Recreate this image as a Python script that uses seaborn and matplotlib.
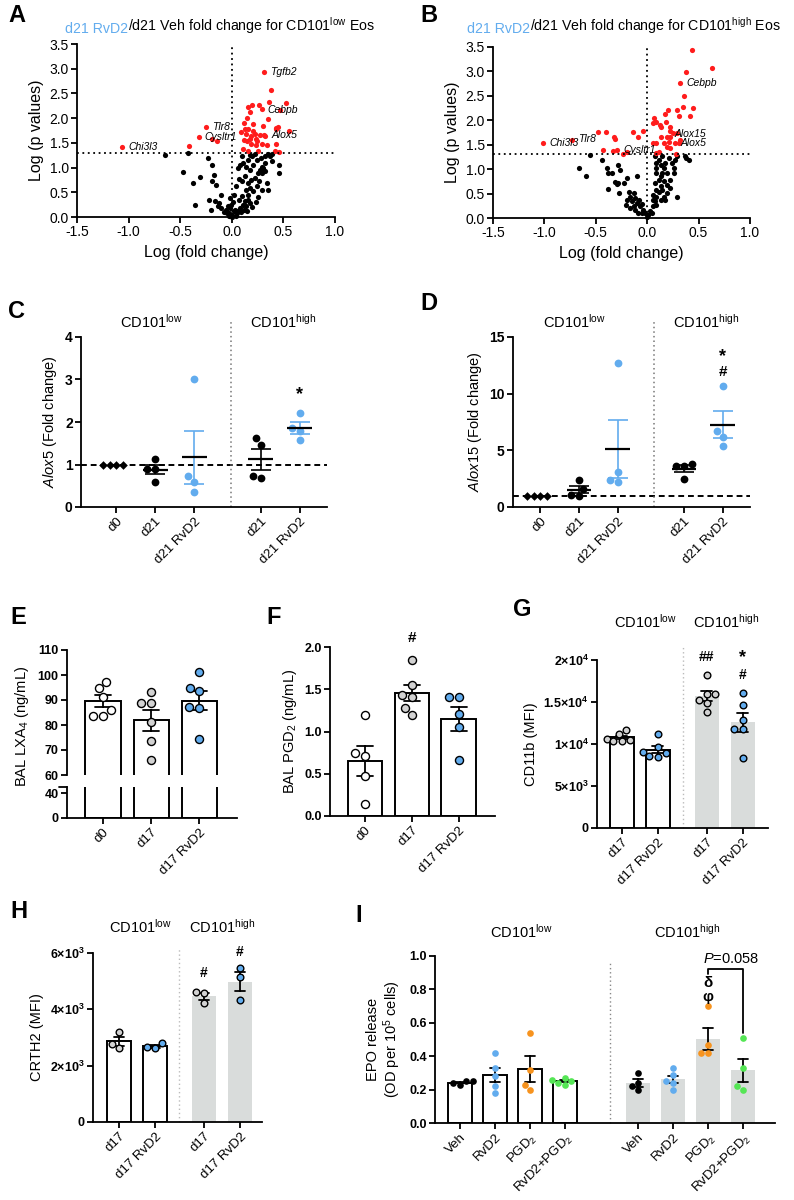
import warnings
import numpy as np
import matplotlib
matplotlib.use('Agg')
import matplotlib.pyplot as plt
from matplotlib.ticker import FormatStrFormatter
import seaborn as sns

warnings.filterwarnings('ignore')

# ---------------- data ----------------
# volcano A: (log fold change, -log p)
a_black = [(-0.65, 1.25), (-0.42, 1.29), (-0.47, 0.91), (-0.38, 0.69), (-0.31, 0.81), (-0.36, 0.25),
           (-0.23, 1.19), (-0.19, 1.05), (-0.17, 0.84), (-0.19, 0.72), (-0.15, 0.65), (-0.22, 0.35),
           (-0.16, 0.33), (-0.12, 0.28), (-0.20, 0.15), (-0.13, 0.22), (-0.10, 0.18), (-0.10, 0.45),
           (-0.06, 0.15), (-0.03, 0.08), (0.00, 0.05), (0.02, 0.12), (-0.02, 0.18), (-0.05, 0.08),
           (0.03, 0.15), (0.05, 0.08), (0.00, 0.01), (-0.03, 0.03), (-0.08, 0.10), (0.04, 0.03),
           (0.06, 0.12), (0.08, 0.18), (-0.01, 0.25), (0.01, 0.30), (-0.04, 0.22), (0.07, 0.35),
           (0.10, 0.42), (0.13, 0.32), (0.11, 0.25), (0.14, 0.22), (0.16, 0.35), (0.18, 0.28),
           (0.20, 0.20), (0.12, 0.15), (0.09, 0.10), (0.15, 0.12), (0.04, 0.62), (0.065, 0.76),
           (0.10, 0.72), (0.13, 0.82), (0.155, 0.69), (0.19, 0.75), (0.22, 0.79), (0.25, 0.89),
           (0.275, 0.95), (0.29, 1.02), (0.30, 0.99), (0.32, 0.93), (0.29, 0.89), (0.26, 0.72),
           (0.34, 0.69), (0.35, 0.55), (0.29, 0.55), (0.24, 0.62), (0.21, 0.52), (0.18, 0.58),
           (0.155, 0.45), (0.135, 0.55), (0.06, 0.99), (0.08, 1.06), (0.11, 1.09), (0.16, 1.16),
           (0.20, 1.23), (0.24, 1.16), (0.28, 1.19), (0.32, 1.09), (0.37, 1.23), (0.39, 1.13),
           (0.46, 1.05), (0.46, 0.90), (0.39, 1.28), (0.35, 1.27), (0.32, 1.23), (0.22, 1.28),
           (0.18, 1.26), (0.10, 1.23), (0.14, 1.02), (0.18, 0.95), (0.21, 1.05), (0.25, 0.40),
           (0.23, 0.30), (0.02, 0.45), (-0.02, 0.38)]
a_red = [(0.31, 2.93), (0.375, 2.56), (0.36, 2.33), (0.53, 2.31), (0.47, 2.17), (0.16, 2.23),
         (0.20, 2.26), (0.26, 2.27), (0.295, 2.18), (0.18, 2.12), (0.15, 2.00), (0.35, 1.98),
         (0.12, 1.91), (0.21, 1.88), (0.30, 1.85), (-0.25, 1.82), (0.13, 1.79), (0.16, 1.78),
         (0.43, 1.81), (0.45, 1.83), (0.43, 1.78), (0.55, 1.75), (0.09, 1.72), (0.135, 1.67),
         (0.19, 1.63), (0.22, 1.67), (0.27, 1.65), (0.31, 1.66), (0.32, 1.64), (0.21, 1.73),
         (-0.32, 1.62), (-0.19, 1.58), (-0.145, 1.54), (0.115, 1.56), (0.145, 1.54), (0.18, 1.58),
         (0.23, 1.58), (0.24, 1.53), (0.43, 1.48), (-0.41, 1.43), (-1.06, 1.42), (0.19, 1.48),
         (0.23, 1.45), (0.29, 1.48), (0.105, 1.37), (0.16, 1.34), (0.25, 1.33), (0.34, 1.45),
         (0.42, 1.34), (0.46, 1.31)]
a_genes = [('Tgfb2', 0.37, 2.93), ('Cebpb', 0.35, 2.17), ('Tlr8', -0.19, 1.82),
           ('Cysltr1', -0.27, 1.62), ('Alox5', 0.38, 1.65), ('Chi3l3', -1.00, 1.42)]

# volcano B
b_black = [(-0.56, 1.28), (-0.66, 1.03), (-0.60, 0.85), (-0.39, 1.02), (-0.38, 0.93), (-0.34, 0.93),
           (-0.28, 1.09), (-0.26, 0.99), (-0.44, 1.19), (-0.20, 0.82), (-0.10, 0.85), (-0.31, 0.73),
           (-0.29, 0.69), (-0.28, 0.71), (-0.23, 0.71), (-0.38, 0.60), (-0.27, 0.51), (-0.18, 0.54),
           (-0.17, 0.44), (-0.13, 0.51), (-0.12, 0.41), (-0.20, 0.37), (-0.15, 0.34), (-0.10, 0.31),
           (-0.21, 0.27), (-0.07, 0.24), (-0.17, 0.20), (-0.12, 0.17), (-0.08, 0.37), (-0.05, 0.29),
           (-0.13, 0.24), (-0.04, 0.17), (-0.02, 0.10), (0.01, 0.07), (0.00, 0.03), (-0.05, 0.10),
           (-0.09, 0.10), (0.03, 0.14), (0.05, 0.10), (0.06, 0.24), (0.08, 0.34), (0.09, 0.44),
           (0.11, 0.54), (0.13, 0.65), (0.06, 0.37), (0.09, 0.27), (0.13, 0.37), (0.16, 0.44),
           (0.19, 0.51), (0.14, 0.58), (0.08, 0.71), (0.11, 0.78), (0.09, 0.92), (0.14, 0.92),
           (0.16, 1.02), (0.17, 1.12), (0.13, 1.09), (0.09, 1.12), (0.08, 1.26), (0.14, 1.26),
           (0.21, 1.22), (0.24, 1.12), (0.26, 1.02), (0.27, 1.19), (0.29, 1.26), (0.26, 0.92),
           (0.22, 0.78), (0.19, 0.68), (0.19, 0.92), (0.29, 0.43), (0.37, 1.26), (0.41, 1.19),
           (0.11, 1.19), (0.09, 1.02), (0.13, 0.85), (0.16, 0.75), (0.17, 0.37), (0.09, 0.58),
           (0.06, 0.48), (0.22, 0.61), (0.38, 1.22)]
b_red = [(0.44, 3.43), (0.63, 3.06), (0.375, 2.98), (0.32, 2.77), (0.36, 2.49), (0.35, 2.28),
         (0.29, 2.22), (0.20, 2.22), (0.45, 2.26), (0.42, 2.09), (0.31, 2.09), (0.17, 2.12),
         (0.07, 2.04), (0.09, 1.97), (0.06, 1.94), (0.12, 1.90), (0.13, 1.86), (0.18, 1.97),
         (0.22, 1.87), (0.22, 1.78), (0.25, 1.75), (0.29, 1.73), (0.19, 1.66), (0.22, 1.66),
         (0.32, 1.60), (0.13, 1.65), (0.09, 1.53), (0.16, 1.53), (0.19, 1.46), (0.27, 1.53),
         (0.31, 1.54), (0.21, 1.56), (0.22, 1.44), (0.11, 1.36), (0.09, 1.34), (0.28, 1.31),
         (0.06, 1.53), (-0.04, 1.78), (-0.14, 1.77), (-0.09, 1.66), (-0.48, 1.76), (-0.40, 1.77),
         (-0.32, 1.66), (-0.31, 1.61), (-0.43, 1.39), (-0.33, 1.38), (-0.29, 1.40), (-0.24, 1.31),
         (-0.20, 1.36), (-0.73, 1.60), (-1.01, 1.53)]
b_genes = [('Cebpb', 0.38, 2.77), ('Alox15', 0.27, 1.71), ('Alox5', 0.32, 1.53),
           ('Tlr8', -0.67, 1.61), ('Chi3l3', -0.95, 1.53), ('Cysltr1', -0.23, 1.39)]

# C / D: qPCR fold change
cd_labels = ['d0', 'd21', 'd21 RvD2', 'd21', 'd21 RvD2']
alox5 = [[1.0, 1.0, 1.0, 1.0], [1.12, 0.90, 0.90, 0.60], [3.00, 0.72, 0.60, 0.35],
         [1.62, 1.47, 0.73, 0.68], [2.22, 1.85, 1.78, 1.58]]
alox15 = [[1.0, 1.0, 1.0, 1.0], [2.4, 1.6, 1.1, 1.0], [12.7, 3.1, 2.4, 2.2],
          [3.8, 3.6, 3.6, 2.5], [10.7, 6.7, 6.2, 5.4]]

# E / F: BAL lipid mediators
ef_labels = ['d0', 'd17', 'd17 RvD2']
lxa4 = [[97.3, 94.7, 91.3, 86.0, 83.6, 83.6], [93.3, 88.7, 88.7, 81.1, 73.7, 66.0],
        [101.3, 95.0, 93.7, 87.3, 87.0, 74.4]]
pgd2 = [[1.19, 0.74, 0.71, 0.47, 0.14], [1.85, 1.55, 1.43, 1.41, 1.28, 1.20],
        [1.41, 1.41, 1.21, 1.05, 0.66]]

# G / H: flow cytometry MFI
gh_labels = ['d17', 'd17 RvD2', 'd17', 'd17 RvD2']
cd11b = [[11700, 11200, 10600, 10500, 10400, 10300], [11200, 9600, 9100, 8900, 8600, 8500],
         [18200, 16000, 16000, 15200, 14900, 13800], [16100, 14600, 12900, 11800, 11800, 8300]]
crth2 = [[3190, 2770, 2620], [2800, 2660, 2620], [4610, 4580, 4220], [5460, 5140, 4330]]

# I: EPO release
i_labels = ['Veh', 'RvD2', 'PGD$_2$', 'RvD2+PGD$_2$'] * 2
epo = [[0.25, 0.25, 0.24, 0.23], [0.42, 0.33, 0.28, 0.22, 0.18], [0.54, 0.32, 0.23, 0.20],
       [0.27, 0.26, 0.25, 0.24, 0.23], [0.30, 0.24, 0.22, 0.20], [0.33, 0.29, 0.25, 0.24, 0.20],
       [0.70, 0.47, 0.42, 0.42], [0.51, 0.33, 0.22, 0.20]]

# ---------------- style ----------------
W, H = 794, 1200
BLUE = '#62acee'
ORANGE = '#f7931e'
GREEN = '#55e655'
RED = '#ff1c1c'
GREY_DOT = '#d2d2d2'
GREY_BAR = '#d9dcdb'
DOT = (0, (1, 2))
TICK = 9          # bold y tick labels in C-I
XTICK = 9.5       # rotated category labels
YLAB = 10.5

sns.set_theme(style='ticks')
plt.rcParams.update({
    'axes.edgecolor': 'black', 'axes.linewidth': 1.3,
    'xtick.color': 'black', 'ytick.color': 'black',
    'xtick.major.width': 1.3, 'ytick.major.width': 1.3,
    'xtick.major.size': 4, 'ytick.major.size': 4,
    'xtick.major.pad': 2, 'ytick.major.pad': 2,
    'axes.labelcolor': 'black', 'text.color': 'black',
    'mathtext.fontset': 'custom', 'mathtext.rm': 'Liberation Sans',
    'mathtext.it': 'Liberation Sans:italic', 'mathtext.bf': 'Liberation Sans:bold',
})
plt.rcParams['font.family'] = ['Liberation Sans', 'DejaVu Sans']

fig = plt.figure(figsize=(W / 100, H / 100), dpi=100)


def add_ax(left, top, right, bottom):
    return fig.add_axes([left / W, 1 - bottom / H, (right - left) / W, (bottom - top) / H])


def px_text(x, y, s, **kw):
    return fig.text(x / W, 1 - y / H, s, **kw)


def letter(x, y, s):
    px_text(x, y, s, fontsize=17, fontweight='bold', va='top', ha='left')


def header(x, y, level):
    px_text(x, y, 'CD101$^{\\mathrm{%s}}$' % level, fontsize=10.5, ha='center', va='baseline')


def bold_yticks(ax, ticks, labels, size=TICK):
    ax.set_yticks(ticks, labels)
    for t in ax.get_yticklabels():
        t.set_fontweight('bold')
        t.set_fontsize(size)


def rot_xticks(ax, pos, labels, size=XTICK):
    ax.set_xticks(pos, labels, rotation=45, ha='right', rotation_mode='anchor', fontsize=size)


def volcano(ax, black, red, genes, level, title_x):
    black = np.array(black)
    red = np.array(red)
    sns.scatterplot(x=black[:, 0], y=black[:, 1], color='black', s=14, linewidth=0, ax=ax, clip_on=False)
    sns.scatterplot(x=red[:, 0], y=red[:, 1], color=RED, s=14, linewidth=0, ax=ax, clip_on=False)
    ax.plot([-1.5, 1.0], [1.3, 1.3], ls=DOT, color='black', lw=1.3)
    ax.plot([0, 0], [0, 3.5], ls=DOT, color='black', lw=1.3)
    for g, x, y in genes:
        ax.text(x, y, g, style='italic', fontsize=7.5, va='center', ha='left')
    ax.set_xlim(-1.5, 1.0)
    ax.set_ylim(0, 3.5)
    ax.set_xticks(np.arange(-1.5, 1.01, 0.5))
    ax.set_yticks(np.arange(0, 3.51, 0.5))
    ax.xaxis.set_major_formatter(FormatStrFormatter('%.1f'))
    ax.yaxis.set_major_formatter(FormatStrFormatter('%.1f'))
    ax.tick_params(labelsize=10)
    ax.set_xlabel('Log (fold change)', fontsize=11.5)
    ax.set_ylabel('Log (p values)', fontsize=11.5)
    sns.despine(ax=ax)
    t1 = px_text(title_x, 33, 'd21 RvD2', color=BLUE, fontsize=10.2, va='baseline')
    ax.annotate('/d21 Veh fold change for CD101$^{\\mathrm{%s}}$ Eos' % level, xy=(1, 0), xycoords=t1,
                va='bottom', ha='left', fontsize=10.2, annotation_clip=False)


def dot_group(ax, pos, vals, color, marker, err_color, size):
    xs = np.full(len(vals), pos, dtype=float)
    sns.swarmplot(x=xs, y=vals, native_scale=True, orient='x', color=color, marker=marker,
                  size=size, linewidth=0, ax=ax, clip_on=False)
    m = np.mean(vals)
    se = np.std(vals, ddof=1) / np.sqrt(len(vals))
    if se > 0:
        ax.errorbar(pos, m, yerr=se, color=err_color, capsize=7, capthick=1.2, elinewidth=1.2, zorder=3)
        ax.hlines(m, pos - 0.32, pos + 0.32, color='black', lw=1.6, zorder=4)


def cd_panel(ax, pos, data, ymax, yticks, ylabel, sep):
    colors = ['black', 'black', BLUE, 'black', BLUE]
    for i, vals in enumerate(data):
        dot_group(ax, pos[i], vals, colors[i], 'D' if i == 0 else 'o', colors[i], 4.4 if i == 0 else 5.6)
    ax.axhline(1, ls=(0, (3, 2)), color='black', lw=1.4, zorder=0)
    ax.axvline(sep, ymin=0, ymax=1.09, ls=DOT, color='#777777', lw=1.1, clip_on=False)
    ax.set_ylim(0, ymax)
    bold_yticks(ax, yticks, [str(t) for t in yticks], size=10)
    rot_xticks(ax, pos, cd_labels)
    ax.set_ylabel(ylabel, fontsize=YLAB)
    sns.despine(ax=ax)


def bar_group(ax, pos, vals, face, dot, width, cap, dot_size, edge=True, dot_edge=True, err=True):
    xs = np.full(len(vals), pos, dtype=float)
    sns.barplot(x=xs, y=vals, native_scale=True, orient='x', errorbar='se' if err else None,
                capsize=cap, width=width, color=face, saturation=1,
                edgecolor='black' if edge else face, linewidth=1.4 if edge else 0,
                err_kws={'color': 'black', 'linewidth': 1.3}, ax=ax)
    if dot is not None:
        sns.swarmplot(x=xs, y=vals, native_scale=True, orient='x', color=dot,
                      edgecolor='black', linewidth=1.0 if dot_edge else 0, size=dot_size, ax=ax)


def lift_lines(ax):
    for ln in ax.lines:
        ln.set_zorder(3)


# ---------------- A / B ----------------
ax_a = add_ax(77, 44, 335, 217)
volcano(ax_a, a_black, a_red, a_genes, 'low', 65)
ax_b = add_ax(493, 47, 750, 218)
volcano(ax_b, b_black, b_red, b_genes, 'high', 467)
letter(8, 4, 'A')
letter(420, 4, 'B')

# ---------------- C / D ----------------
cd_pos = [0, 1, 2, 3.7, 4.7]
ax_c = add_ax(81, 337, 327, 507)
cd_panel(ax_c, cd_pos, alox5, 4, [0, 1, 2, 3, 4], '$\\it{Alox5}$ (Fold change)', 2.95)
ax_c.set_xlim(-0.9, 5.4)
ax_c.text(4.7, 2.65, '*', ha='center', va='center', fontsize=13, fontweight='bold')
ax_d = add_ax(513, 337, 750, 507)
cd_panel(ax_d, cd_pos, alox15, 15, [0, 5, 10, 15], '$\\it{Alox15}$ (Fold change)', 2.93)
ax_d.set_xlim(-0.7, 5.4)
ax_d.text(4.7, 13.3, '*', ha='center', va='center', fontsize=13, fontweight='bold')
ax_d.text(4.7, 11.9, '#', ha='center', va='center', fontsize=11, fontweight='bold')
letter(8, 300, 'C')
letter(420, 292, 'D')
header(152, 328, 'low')
header(283, 328, 'high')
header(575, 328, 'low')
header(706, 328, 'high')

# ---------------- E (broken axis) ----------------
ef_pos = [0, 1, 2]
ef_dots = ['white', GREY_DOT, BLUE]
e_top = add_ax(67, 650, 237, 775)
e_bot = add_ax(67, 787, 237, 818)
for i, vals in enumerate(lxa4):
    bar_group(e_top, ef_pos[i], vals, 'white', ef_dots[i], 0.73, 0.35, 5.8)
    bar_group(e_bot, ef_pos[i], vals, 'white', None, 0.73, 0.35, 5.8, err=False)
lift_lines(e_top)
for ax in (e_top, e_bot):
    ax.set_xlim(-0.75, 2.79)
e_top.set_ylim(60, 110)
bold_yticks(e_top, [60, 70, 80, 90, 100, 110], ['60', '70', '80', '90', '100', '110'])
e_top.set_xticks([])
sns.despine(ax=e_top, bottom=True)
e_bot.set_ylim(0, 49.6)
bold_yticks(e_bot, [0, 40], ['0', '40'])
e_bot.plot([-0.05, 0], [1, 1], transform=e_bot.transAxes, color='black', lw=1.3, clip_on=False)
rot_xticks(e_bot, ef_pos, ef_labels)
sns.despine(ax=e_bot)
px_text(22, 726, 'BAL LXA$_4$ (ng/mL)', rotation=90, ha='center', va='center', fontsize=YLAB)
letter(10, 606, 'E')

# ---------------- F ----------------
ax_f = add_ax(330, 647, 495, 816)
for i, vals in enumerate(pgd2):
    bar_group(ax_f, ef_pos[i], vals, 'white', ef_dots[i], 0.74, 0.35, 5.8)
lift_lines(ax_f)
ax_f.set_xlim(-0.745, 2.77)
ax_f.set_ylim(0, 2.0)
bold_yticks(ax_f, [0, 0.5, 1.0, 1.5, 2.0], ['0.0', '0.5', '1.0', '1.5', '2.0'])
rot_xticks(ax_f, ef_pos, ef_labels)
ax_f.set_ylabel('BAL PGD$_2$ (ng/mL)', fontsize=YLAB)
ax_f.text(1, 2.11, '#', ha='center', va='center', fontsize=11, fontweight='bold')
sns.despine(ax=ax_f)
letter(266, 606, 'F')

# ---------------- G / H ----------------
gh_pos = [0, 1, 2.36, 3.36]
gh_faces = ['white', 'white', GREY_BAR, GREY_BAR]
gh_dots = [GREY_DOT, BLUE, GREY_DOT, BLUE]


def gh_panel(ax, data):
    for i, vals in enumerate(data):
        bar_group(ax, gh_pos[i], vals, gh_faces[i], gh_dots[i], 0.65, 0.3, 4.8, edge=(i < 2))
    lift_lines(ax)
    rot_xticks(ax, gh_pos, gh_labels)
    sns.despine(ax=ax)


ax_g = add_ax(597, 660, 768, 828)
gh_panel(ax_g, cd11b)
ax_g.set_xlim(-0.69, 4.06)
ax_g.set_ylim(0, 20000)
bold_yticks(ax_g, [0, 5000, 10000, 15000, 20000],
            ['0', '$\\mathbf{5{\\times}10^3}$', '$\\mathbf{1{\\times}10^4}$',
             '$\\mathbf{1.5{\\times}10^4}$', '$\\mathbf{2{\\times}10^4}$'], size=9)
ax_g.axvline(1.69, ymin=0, ymax=1.09, ls=DOT, color='#bbbbbb', lw=1, clip_on=False)
ax_g.set_ylabel('CD11b (MFI)', fontsize=YLAB)
ax_g.text(2.36, 20400, '##', ha='center', va='center', fontsize=10, fontweight='bold')
ax_g.text(3.36, 20300, '*', ha='center', va='center', fontsize=13, fontweight='bold')
ax_g.text(3.36, 18200, '#', ha='center', va='center', fontsize=10, fontweight='bold')
letter(513, 598, 'G')
header(646, 628, 'low')
header(726, 628, 'high')

ax_h = add_ax(93, 953, 262, 1122)
gh_panel(ax_h, crth2)
ax_h.set_xlim(-0.72, 3.97)
ax_h.set_ylim(0, 6000)
bold_yticks(ax_h, [0, 2000, 4000, 6000],
            ['0', '$\\mathbf{2{\\times}10^3}$', '$\\mathbf{4{\\times}10^3}$', '$\\mathbf{6{\\times}10^3}$'])
ax_h.axvline(1.67, ymin=0, ymax=1.03, ls=DOT, color='#bbbbbb', lw=1, clip_on=False)
ax_h.set_ylabel('CRTH2 (MFI)', fontsize=YLAB)
ax_h.text(2.36, 5300, '#', ha='center', va='center', fontsize=10, fontweight='bold')
ax_h.text(3.36, 6030, '#', ha='center', va='center', fontsize=10, fontweight='bold')
letter(10, 900, 'H')
header(141, 933, 'low')
header(222, 933, 'high')

# ---------------- I ----------------
i_pos = [0, 1, 2, 3, 5.09, 6.09, 7.09, 8.09]
i_dots = ['black', BLUE, ORANGE, GREEN] * 2
ax_i = add_ax(435, 956, 775, 1123)
for i, vals in enumerate(epo):
    bar_group(ax_i, i_pos[i], vals, 'white' if i < 4 else GREY_BAR, i_dots[i], 0.7, 0.3, 4.8,
              edge=(i < 4), dot_edge=False)
lift_lines(ax_i)
ax_i.set_xlim(-0.71, 9.0)
ax_i.set_ylim(0, 1.0)
bold_yticks(ax_i, [0, 0.2, 0.4, 0.6, 0.8, 1.0], ['0.0', '0.2', '0.4', '0.6', '0.8', '1.0'])
rot_xticks(ax_i, i_pos, i_labels)
ax_i.axvline(4.28, ymin=0, ymax=0.96, ls=DOT, color='#888888', lw=1, clip_on=False)
ax_i.set_ylabel('EPO release\n(OD per 10$^5$ cells)', fontsize=YLAB, linespacing=1.1)
ax_i.text(i_pos[6], 0.84, 'δ', ha='center', va='center', fontsize=11, fontweight='bold')
ax_i.text(i_pos[6], 0.755, 'φ', ha='center', va='center', fontsize=11, fontweight='bold')
ax_i.plot([i_pos[6], i_pos[6], i_pos[7], i_pos[7]], [0.89, 0.92, 0.92, 0.54],
          color='black', lw=1.3, clip_on=False)
ax_i.text(7.75, 0.94, '$\\it{P}$=0.058', ha='center', va='bottom', fontsize=10.5)
sns.despine(ax=ax_i)
letter(355, 904, 'I')
header(522, 938, 'low')
header(687, 938, 'high')

fig.savefig('out.png', dpi=100)
